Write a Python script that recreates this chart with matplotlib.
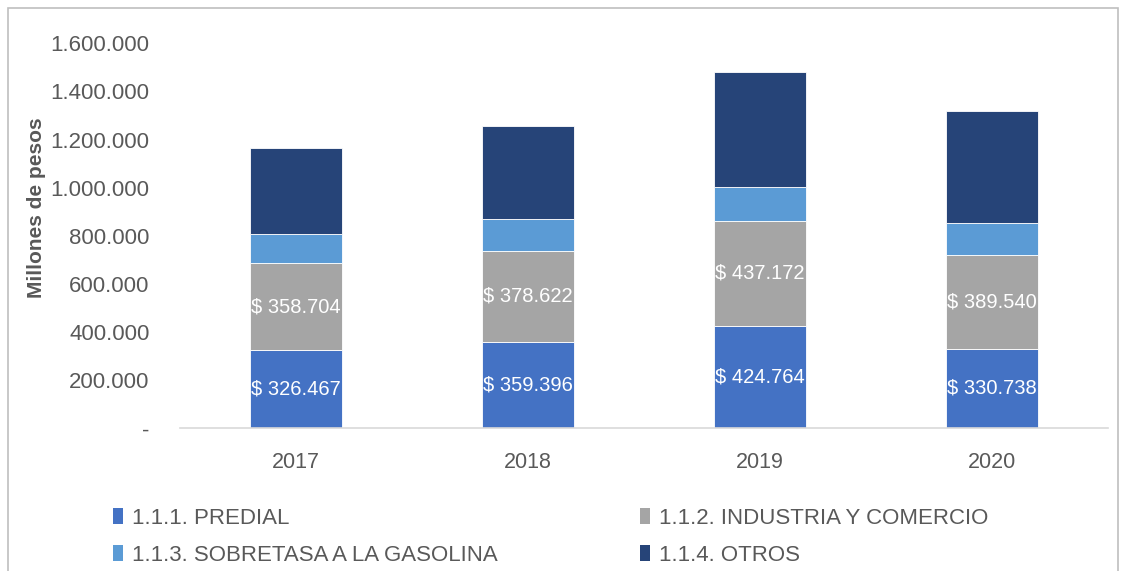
import matplotlib
matplotlib.use("Agg")
import matplotlib.pyplot as plt
from matplotlib.patches import Rectangle, Patch

years = ["2017", "2018", "2019", "2020"]
predial = [326467, 359396, 424764, 330738]
industria = [358704, 378622, 437172, 389540]
sobretasa = [122000, 132000, 140000, 132000]
otros = [357000, 388000, 479000, 466000]
series_names = ["1.1.1. PREDIAL", "1.1.2. INDUSTRIA Y COMERCIO",
                "1.1.3. SOBRETASA A LA GASOLINA", "1.1.4. OTROS"]
yticks = [0, 200000, 400000, 600000, 800000, 1000000, 1200000, 1400000, 1600000]

plt.rcParams["font.family"] = ["Liberation Sans", "DejaVu Sans"]

colors = ["#4472C4", "#A5A5A5", "#5B9BD5", "#264478"]
txt = "#595959"

fig = plt.figure(figsize=(11.22, 5.71), dpi=100)
ax = fig.add_axes([0.1604, 0.2501, 0.9875 - 0.1604, 0.9242 - 0.2501])

x = list(range(len(years)))
series = [predial, industria, sobretasa, otros]
bottom = [0] * len(years)
containers = []
for vals, c, n in zip(series, colors, series_names):
    bc = ax.bar(x, vals, width=0.4, bottom=bottom, color=c, edgecolor="white",
                linewidth=0.6, label=n)
    containers.append(bc)
    bottom = [b + v for b, v in zip(bottom, vals)]

def fmt(v):
    return "$ " + f"{v:,.0f}".replace(",", ".")

for bc, vals in zip(containers[:2], series[:2]):
    ax.bar_label(bc, labels=[fmt(v) for v in vals], label_type="center",
                 color="white", fontsize=14.5)

ax.set_xlim(-0.5, 3.5)
ax.set_ylim(0, 1600000)
ax.set_xticks(x)
ax.set_xticklabels(years)
ax.set_yticks(yticks)
ax.set_yticklabels(["-" if v == 0 else f"{v:,.0f}".replace(",", ".") for v in yticks])
ax.tick_params(axis="y", length=0, pad=22, labelsize=16, labelcolor=txt)
ax.tick_params(axis="x", length=0, pad=17, labelsize=15.5, labelcolor=txt)
for s in ["top", "right", "left"]:
    ax.spines[s].set_visible(False)
ax.spines["bottom"].set_color("#D9D9D9")
ax.spines["bottom"].set_linewidth(1.2)

fig.text(36 / 1122, 1 - 208 / 571, "Millones de pesos", rotation=90, ha="center",
         va="center", fontsize=15, fontweight="bold", color=txt)

order = [0, 2, 1, 3]
handles = [Patch(facecolor=colors[i], edgecolor="none") for i in order]
labels = [series_names[i] for i in order]
leg = fig.legend(handles, labels, loc="upper left", ncol=2,
                 bbox_to_anchor=(113 / 1122, 1 - 508 / 571), frameon=False,
                 fontsize=16, handlelength=0.45, handleheight=0.7, handletextpad=0.4,
                 columnspacing=6.4, labelspacing=0.72, borderaxespad=0, borderpad=0)
for t in leg.get_texts():
    t.set_color(txt)

fig.patches.append(Rectangle((8 / 1122, -0.1), (1118 - 8) / 1122, 1.1 - 8 / 571,
                             transform=fig.transFigure, fill=False,
                             edgecolor="#BFBFBF", linewidth=1.2))

fig.savefig("out.png", dpi=100)
